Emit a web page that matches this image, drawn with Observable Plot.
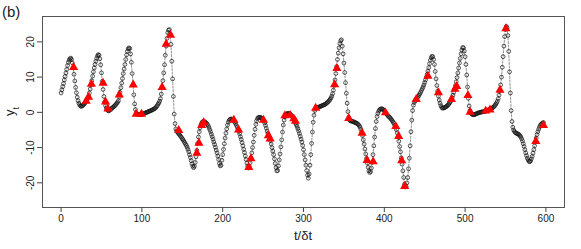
<!DOCTYPE html>
<html><head><meta charset="utf-8">
<script src="https://cdn.jsdelivr.net/npm/d3@7"></script>
<script src="https://cdn.jsdelivr.net/npm/@observablehq/plot@0.6"></script>
<style>body{margin:0;background:#fff}</style>
</head><body><div id="chart"></div>
<script>
// y_t at t = 0,1,2,... (one value per time step)
const series = [
5.5, 6.4, 7.3, 8.2, 9.2, 10.2, 11.2, 12.2, 13.3, 14.2,
14.8, 15.2, 15.4, 15.0, 14.0, 12.6, 10.8, 8.9, 7.1, 5.6,
4.3, 3.3, 2.6, 2.1, 1.8, 1.7, 1.8, 2.0, 2.2, 2.5,
2.8, 3.1, 3.5, 4.0, 4.6, 5.5, 6.6, 7.8, 9.0, 10.3,
11.5, 12.6, 13.6, 14.5, 15.3, 16.0, 16.4, 16.2, 15.2, 13.5,
11.2, 8.8, 6.5, 4.5, 3.0, 1.9, 1.2, 0.8, 0.5, 0.4,
0.6, 0.8, 1.0, 1.2, 1.4, 1.6, 1.8, 2.0, 2.3, 2.6,
2.9, 3.3, 4.3, 5.7, 7.0, 8.3, 9.6, 11.0, 12.3, 13.6,
15.0, 16.3, 17.3, 18.0, 18.3, 18.1, 16.6, 14.2, 11.0, 7.9,
5.0, 2.4, 0.8, -0.1, -0.5, -0.6, -0.6, -0.6, -0.6, -0.6,
-0.6, -0.5, -0.4, -0.3, -0.2, -0.1, 0.0, 0.1, 0.2, 0.3,
0.4, 0.5, 0.6, 0.7, 0.8, 1.0, 1.1, 1.3, 1.6, 1.9,
2.3, 2.7, 3.2, 3.9, 5.2, 7.0, 9.0, 11.2, 13.5, 16.2,
18.8, 21.0, 22.6, 23.3, 23.5, 22.3, 19.3, 14.5, 9.5, 4.5,
-0.5, -3.2, -4.7, -5.3, -5.6, -5.9, -6.2, -6.5, -6.8, -7.1,
-7.5, -7.8, -8.2, -8.6, -9.0, -9.4, -9.9, -10.5, -11.2, -12.0,
-12.8, -13.7, -14.6, -15.3, -15.7, -15.3, -14.2, -12.6, -10.8, -8.8,
-7.0, -5.5, -4.4, -3.6, -3.0, -2.7, -2.6, -2.6, -2.7, -2.9,
-3.1, -3.4, -3.8, -4.3, -4.9, -5.5, -6.2, -6.9, -7.6, -8.4,
-9.1, -9.9, -10.7, -11.5, -12.4, -13.4, -14.5, -15.2, -15.0, -13.6,
-12.0, -10.5, -8.9, -7.3, -5.9, -4.7, -3.6, -2.8, -2.3, -2.0,
-1.9, -1.9, -2.0, -2.2, -2.5, -2.8, -3.2, -3.7, -4.2, -4.8,
-5.4, -6.1, -6.9, -7.7, -8.6, -9.5, -10.5, -11.4, -12.4, -13.4,
-14.4, -15.3, -15.8, -15.4, -14.3, -13.0, -11.5, -10.0, -8.4, -6.5,
-4.8, -3.4, -2.4, -1.8, -1.5, -1.4, -1.4, -1.5, -1.6, -1.8,
-2.0, -2.4, -3.0, -3.7, -4.5, -5.3, -6.0, -6.6, -7.2, -8.0,
-9.0, -10.0, -11.0, -12.0, -13.2, -14.5, -15.7, -16.6, -16.5, -15.2,
-13.5, -11.8, -9.8, -7.8, -5.6, -3.6, -2.2, -1.3, -0.8, -0.5,
-0.3, -0.3, -0.3, -0.4, -0.6, -0.9, -1.2, -1.6, -2.0, -2.5,
-3.0, -3.5, -4.0, -4.6, -5.3, -6.0, -6.8, -7.6, -8.4, -9.4,
-10.6, -12.0, -13.5, -15.0, -16.5, -17.8, -18.7, -17.5, -15.0, -12.0,
-8.8, -5.6, -2.8, -0.8, 0.5, 1.1, 1.3, 1.4, 1.4, 1.5,
1.6, 1.7, 1.8, 1.9, 2.0, 2.1, 2.2, 2.3, 2.5, 2.7,
2.9, 3.1, 3.4, 3.7, 4.1, 4.6, 5.3, 6.3, 7.6, 9.2,
11.0, 13.0, 15.0, 16.8, 18.3, 19.5, 20.3, 20.6, 18.8, 16.6,
14.0, 11.3, 8.4, 5.4, 2.6, 0.2, -1.5, -2.2, -2.4, -2.5,
-2.5, -2.6, -2.7, -2.8, -2.9, -3.0, -3.1, -3.3, -3.5, -3.8,
-4.2, -4.8, -5.6, -6.6, -7.8, -9.0, -10.4, -11.8, -13.1, -14.4,
-15.6, -16.6, -17.1, -16.8, -15.8, -14.2, -12.0, -9.5, -7.0, -4.6,
-2.6, -1.2, -0.3, 0.3, 0.7, 0.9, 1.0, 1.0, 0.9, 0.7,
0.4, 0.1, -0.2, -0.5, -0.8, -1.1, -1.3, -1.5, -1.8, -2.1,
-2.4, -2.8, -3.2, -3.7, -4.2, -4.9, -5.8, -6.9, -8.2, -9.7,
-11.2, -12.9, -14.7, -16.6, -18.5, -20.4, -21.2, -21.0, -20.0, -18.5,
-16.0, -13.0, -9.5, -5.5, -2.2, 0.5, 2.0, 2.8, 3.2, 3.6,
3.9, 4.2, 4.5, 4.9, 5.3, 5.7, 6.2, 6.7, 7.2, 7.8,
8.5, 9.2, 10.0, 10.8, 11.7, 12.7, 13.8, 14.8, 15.5, 15.9,
15.8, 15.0, 13.6, 11.6, 9.5, 7.6, 6.0, 4.6, 3.5, 2.6,
1.9, 1.4, 1.2, 1.2, 1.3, 1.4, 1.5, 1.7, 1.9, 2.1,
2.4, 2.7, 3.1, 3.6, 4.2, 4.9, 5.7, 6.6, 7.6, 8.7,
9.9, 11.2, 12.6, 14.0, 15.3, 16.6, 17.7, 18.4, 18.3, 17.4,
15.8, 13.6, 10.6, 7.2, 4.0, 1.8, 0.5, -0.1, -0.4, -0.6,
-0.7, -0.7, -0.6, -0.5, -0.4, -0.3, -0.2, -0.1, 0.0, 0.0,
0.1, 0.1, 0.2, 0.2, 0.3, 0.3, 0.4, 0.5, 0.6, 0.7,
0.8, 0.9, 1.0, 1.1, 1.3, 1.5, 1.7, 2.0, 2.3, 2.7,
3.2, 3.9, 4.9, 6.1, 7.8, 10.0, 12.8, 15.8, 18.8, 21.5,
23.5, 24.4, 24.0, 21.8, 17.3, 11.5, 5.5, 0.5, -2.6, -4.2,
-5.0, -5.4, -5.7, -5.9, -6.0, -6.1, -6.2, -6.4, -6.7, -7.0,
-7.5, -8.1, -8.9, -9.7, -10.6, -11.5, -12.3, -13.0, -13.5, -13.9,
-14.0, -13.8, -13.2, -12.5, -11.6, -10.6, -9.5, -8.4, -7.3, -6.3,
-5.5, -4.8, -4.2, -3.7, -3.4, -3.2, -3.0, -2.9
];
// observations (red triangles)
const obsT = [15.5, 31, 34, 37.5, 52, 55, 58, 72, 89.3, 93, 99.5, 125, 130, 135.5, 145.6, 168, 170.6, 174, 176.5, 213.8, 219.7, 232.3, 235, 250.4, 256.5, 258.7, 277, 283.5, 288, 290, 315, 338.5, 341.3, 356, 372.5, 378.7, 386.2, 401.4, 414.2, 417.8, 421.5, 425.2, 439.5, 454, 467, 483.1, 487.4, 489.6, 503.5, 506.2, 525.5, 530.8, 543.1, 550.4, 587.5, 597];
const obsY = [12.8, 3.2, 4.3, 8.0, 8.3, 3.0, 1.0, 5.0, 7.8, -0.5, -0.5, 7.1, 19.4, 21.9, -5.1, -11.6, -8.7, -3.7, -2.9, -2.2, -5.0, -15.6, -13.1, -2.2, -6.6, -7.5, -0.9, -0.8, -1.8, -2.5, 1.2, 7.9, 12.5, -1.7, -5.9, -13.6, -14.0, -0.1, -4.0, -6.8, -13.7, -21.0, 3.7, 10.3, 5.6, 3.7, 6.6, 7.4, 4.8, 0.1, 0.4, 0.7, 6.3, 23.8, -8.2, -3.7];
const xTicks = [0, 100, 200, 300, 400, 500, 600];
const yTicks = [-20, -10, 0, 10, 20];

const pts = series.map((y, i) => ({t: i, y}));
const obs = obsT.map((t, i) => ({t, y: obsY[i]}));

const svg = Plot.plot({
  width: 581, height: 249,
  marginLeft: 42, marginRight: 17, marginTop: 16, marginBottom: 42,
  style: {fontFamily: "'Liberation Sans', Arial, sans-serif", fontSize: "10px", background: "white", color: "#222"},
  x: {domain: [-23, 623]},
  y: {domain: [-27, 27.2]},
  marks: [
    Plot.line(pts, {x: "t", y: "y", stroke: "#777", strokeWidth: 0.8, strokeDasharray: "2,1.5"}),
    Plot.dot(pts, {x: "t", y: "y", r: 1.9, stroke: "#111", strokeWidth: 0.7, fill: "none"}),
    Plot.dot(obs, {x: "t", y: "y", symbol: "triangle", r: 3.4, fill: "#ff0000", stroke: "none"}),
    Plot.frame({stroke: "#555"}),
    Plot.axisX(xTicks, {tickSize: 5, tickPadding: 2, label: null, stroke: "#444", fill: "#222"}),
    Plot.axisY(yTicks, {tickSize: 5, tickFormat: () => "", label: null, stroke: "#444"}),
    Plot.text(yTicks, {y: d => d, text: d => String(d), frameAnchor: "left", dx: -9, rotate: -90, textAnchor: "middle", lineAnchor: "bottom", fill: "#222", fontSize: 10})
  ]
});
const s = d3.select(svg);
s.append("text").attr("x", 303).attr("y", 240).attr("text-anchor", "middle")
  .style("font-size", "13px").attr("fill", "#222").text("t/δt");
const yl = s.append("text").attr("transform", "translate(14,111.5) rotate(-90)")
  .attr("text-anchor", "middle").style("font-size", "13px").attr("fill", "#222");
yl.append("tspan").text("y");
yl.append("tspan").attr("baseline-shift", "sub").style("font-size", "9px").text("t");
s.append("text").attr("x", 2).attr("y", 17).attr("text-anchor", "start")
  .style("font-size", "15px").attr("fill", "#222").text("(b)");
document.getElementById("chart").appendChild(svg);
</script>
</body></html>
